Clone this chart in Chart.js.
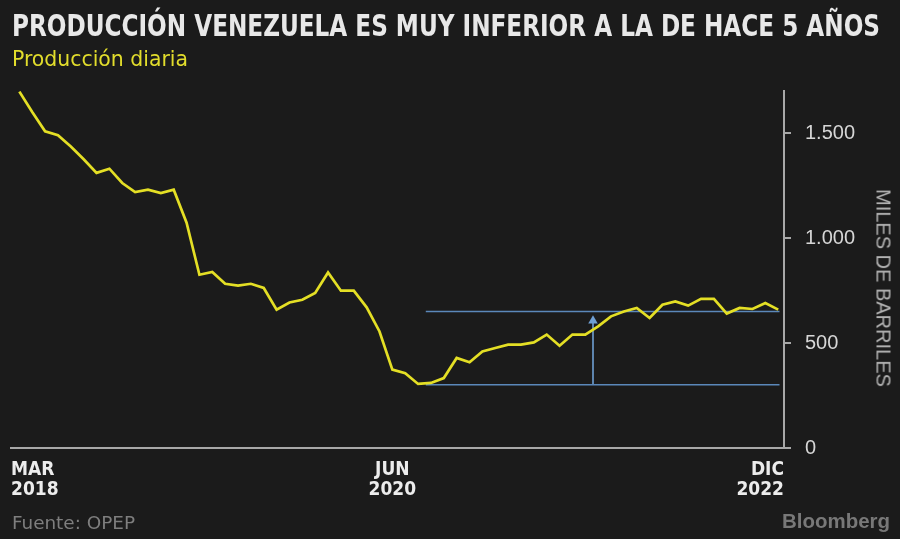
<!DOCTYPE html>
<html>
<head>
<meta charset="utf-8">
<script src="https://cdn.jsdelivr.net/npm/chart.js@4.4.1/dist/chart.umd.min.js"></script>
<style>
html, body { margin: 0; padding: 0; background: #1b1b1b; }
#wrap { position: relative; width: 900px; height: 539px; overflow: hidden; background: #1b1b1b; }
#chart { position: absolute; left: 0; top: 0; }
.txt { position: absolute; white-space: nowrap; transform-origin: 0 0; }
#title { left: 12px; top: 8px; font: bold 30px 'DejaVu Sans Condensed', sans-serif; color: #e8e8e8; }
#sub { left: 12px; top: 46px; font: 22px 'DejaVu Sans Condensed', sans-serif; color: #e2dd2c; }
#src { left: 12px; top: 512px; font: 18px 'DejaVu Sans Condensed', sans-serif; color: #7e7e7e; }
#brand { left: 782px; top: 510px; font: bold 20px 'Liberation Sans', sans-serif; color: #787878; }
#ytitle { position: absolute; left: 883px; top: 288px; white-space: nowrap;
          transform: translate(-50%, -50%) rotate(90deg);
          font: 20px 'Liberation Sans', sans-serif; color: #b3b3b3; }
</style>
</head>
<body>
<div id="wrap">
  <canvas id="chart" width="900" height="539"></canvas>
  <div class="txt" id="title" data-w="868">PRODUCCIÓN VENEZUELA ES MUY INFERIOR A LA DE HACE 5 AÑOS</div>
  <div class="txt" id="sub" data-w="176">Producción diaria</div>
  <div class="txt" id="src" data-w="123">Fuente: OPEP</div>
  <div class="txt" id="brand" data-w="108">Bloomberg</div>
  <div id="ytitle">MILES DE BARRILES</div>
</div>
<script>
// producción diaria, miles de barriles (mensual)
const produccion = [1697, 1600, 1508, 1489, 1436, 1375, 1310, 1330, 1262, 1219,
                    1230, 1214, 1230, 1073, 825, 838, 782, 773, 782, 762,
                    659, 693, 706, 738, 836, 749, 749, 670, 555, 373,
                    356, 305, 310, 333, 429, 408, 460, 476, 492, 492,
                    503, 540, 487, 540, 540, 579, 627, 650, 667, 619,
                    682, 698, 678, 710, 710, 640, 667, 662, 690, 659];

const xTickIdx = [0, 29, 59];
const xTickText = [['MAR', '2018'], ['JUN', '2020'], ['DIC', '2022']];
const yTicks = [0, 500, 1000, 1500];

// referencia: mínimo y nivel actual
const nivelMin = 301;
const nivelActual = 650;
const refDesde = 31.6;
const refHasta = 59.1;
const flechaX = 44.6;
const flechaTope = 606;

const FONT = "'DejaVu Sans Condensed', sans-serif";

// ajustar textos al ancho del original
document.querySelectorAll('.txt').forEach(el => {
    const w = parseFloat(el.dataset.w);
    const real = el.getBoundingClientRect().width;
    if (w && real) el.style.transform = 'scaleX(' + (w / real) + ')';
});

const fmtMiles = (v) => {
    const s = String(Math.round(v));
    return s.length > 3 ? s.slice(0, -3) + '.' + s.slice(-3) : s;
};

const ctx = document.getElementById('chart').getContext('2d');

new Chart(ctx, {
    type: 'line',
    data: {
        datasets: [
            {
                data: produccion.map((v, i) => ({ x: i, y: v })),
                borderColor: '#e4df25',
                borderWidth: 2.7,
                pointRadius: 0,
                tension: 0,
                order: 0
            },
            {
                data: [{ x: refDesde, y: nivelActual }, { x: refHasta, y: nivelActual }],
                borderColor: '#5b88ba',
                borderWidth: 1.6,
                pointRadius: 0,
                order: 1
            },
            {
                data: [{ x: refDesde, y: nivelMin }, { x: refHasta, y: nivelMin }],
                borderColor: '#5b88ba',
                borderWidth: 1.6,
                pointRadius: 0,
                order: 1
            },
            {
                data: [{ x: flechaX, y: nivelMin }, { x: flechaX, y: flechaTope }],
                borderColor: '#6f9fd3',
                borderWidth: 1.6,
                pointStyle: 'triangle',
                pointRadius: [0, 5.5],
                pointBorderWidth: 0,
                pointBackgroundColor: '#6f9fd3',
                order: 1
            }
        ]
    },
    options: {
        responsive: false,
        animation: false,
        layout: { padding: { top: 91, left: 11, right: 0, bottom: 41 } },
        plugins: { legend: { display: false }, tooltip: { enabled: false } },
        scales: {
            x: {
                type: 'linear',
                min: -0.65,
                max: 59.45,
                afterBuildTicks: (scale) => {
                    scale.ticks = xTickIdx.map((v, i) => ({
                        value: i === 0 ? scale.min : (i === xTickIdx.length - 1 ? scale.max : v)
                    }));
                },
                afterFit: (scale) => { scale.height = 50; },
                grid: { display: false },
                border: { display: true, color: '#a8a8a8', width: 2 },
                ticks: {
                    autoSkip: false,
                    maxRotation: 0,
                    align: 'inner',
                    padding: 4,
                    color: '#ececec',
                    font: { family: FONT, size: 19, weight: 'bold', lineHeight: 1.05 },
                    callback: (v, i) => xTickText[i]
                }
            },
            y: {
                position: 'right',
                min: 0,
                max: 1700,
                afterBuildTicks: (scale) => { scale.ticks = yTicks.map(v => ({ value: v })); },
                afterFit: (scale) => { scale.width = 116; },
                grid: { drawOnChartArea: false, color: '#a8a8a8', lineWidth: 2, tickLength: 7 },
                border: { display: true, color: '#a8a8a8', width: 2 },
                ticks: {
                    padding: 14,
                    color: '#d6d6d6',
                    font: { family: "'Liberation Sans', sans-serif", size: 20 },
                    callback: (v) => fmtMiles(v)
                }
            }
        }
    }
});
</script>
</body>
</html>
